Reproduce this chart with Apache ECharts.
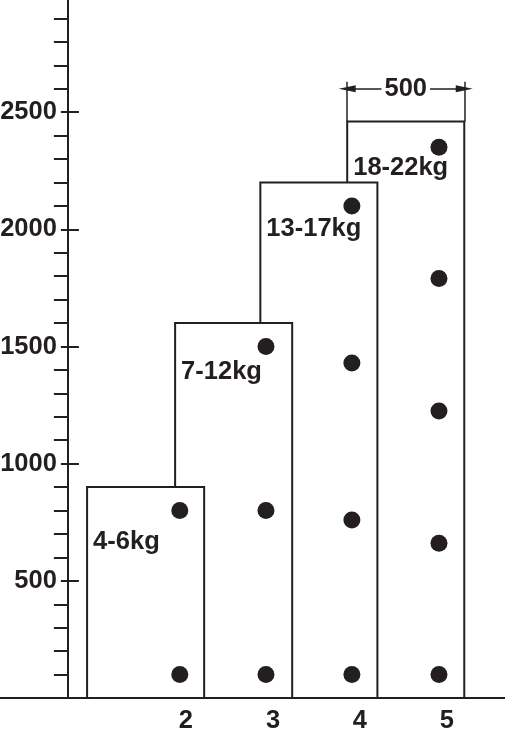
<!DOCTYPE html>
<html>
<head>
    <meta charset="utf-8">
    <title></title>
    <style type="text/css">
        html,
        body {
            margin: 0;
            padding: 0;
            background: #fff;
        }

        #main {
            width: 505px;
            height: 730px;
        }
    </style>
</head>

<body>
    <div id="main"></div>
    <script src="https://cdn.jsdelivr.net/npm/echarts@6/dist/echarts.min.js"></script>
    <script type="text/javascript">
        // boxes: one per weight class, in mm (x) and mm (height)
        var weightClasses = ['4-6kg', '7-12kg', '13-17kg', '18-22kg'];
        var boxLeft = [82, 458, 822, 1193];
        var boxWidth = 500;
        var boxTop = [900, 1600, 2200, 2460];
        var labelY = [665, 1390, 2000, 2260];
        // hinge positions per column
        var hingeCounts = ['2', '3', '4', '5'];
        var dotX = [478, 846, 1213, 1585];
        var dotHeights = [
            [100, 800],
            [100, 800, 1500],
            [100, 760, 1430, 2100],
            [100, 660, 1225, 1790, 2350]
        ];
        var countLabelX = [504, 876, 1247, 1619];
        // y axis ticks
        var majorTicks = [500, 1000, 1500, 2000, 2500];
        var minorTicks = [100, 200, 300, 400, 600, 700, 800, 900, 1100, 1200, 1300, 1400,
            1600, 1700, 1800, 1900, 2100, 2200, 2300, 2400, 2600, 2700, 2800, 2900];
        // dimension line above the last box
        var dimLineY = 2600;
        var dimExtTop = 2630;

        var xMin = -290, xMax = 1867;
        var ink = '#231f20';
        var font = '"Liberation Sans", Arial, sans-serif';
        var fontSize = 25.5;

        var boxData = [];
        for (var i = 0; i < boxLeft.length; i++) {
            boxData.push([boxLeft[i], boxLeft[i] + boxWidth, boxTop[i], labelY[i]]);
        }
        var dotData = [];
        for (var c = 0; c < dotHeights.length; c++) {
            for (var k = 0; k < dotHeights[c].length; k++) {
                dotData.push([dotX[c], dotHeights[c][k]]);
            }
        }
        var last = boxLeft.length - 1;

        var dom = document.getElementById('main');
        // put the y axis where x = 0 (negative offset moves it into the grid)
        var yAxisOffset = -(0 - xMin) / (xMax - xMin) * dom.clientWidth;

        function yAxisBase(extra) {
            var ax = {
                type: 'value',
                min: 0,
                max: 3000,
                interval: 500,
                position: 'left',
                offset: yAxisOffset,
                axisLine: {
                    onZero: false,
                    lineStyle: { color: ink, width: 2 }
                },
                splitLine: { show: false },
                axisLabel: { show: false }
            };
            for (var key in extra) ax[key] = extra[key];
            return ax;
        }

        var myChart = echarts.init(dom);
        myChart.setOption({
            animation: false,
            grid: {
                left: 0,
                right: 0,
                top: -5,
                bottom: 32,
                outerBoundsMode: 'none'
            },
            xAxis: {
                type: 'value',
                min: xMin,
                max: xMax,
                axisLine: {
                    onZero: false,
                    lineStyle: { color: ink, width: 2 }
                },
                axisTick: { show: false },
                splitLine: { show: false },
                axisLabel: {
                    customValues: countLabelX,
                    formatter: function (v) {
                        return hingeCounts[countLabelX.indexOf(v)];
                    },
                    color: ink,
                    fontFamily: font,
                    fontWeight: 'bold',
                    fontSize: fontSize,
                    margin: 10
                }
            },
            yAxis: [
                yAxisBase({
                    axisTick: {
                        inside: true,
                        length: 11,
                        customValues: majorTicks,
                        lineStyle: { color: ink, width: 2 }
                    },
                    axisLabel: {
                        customValues: majorTicks,
                        formatter: function (v) {
                            return String(v);
                        },
                        color: ink,
                        fontFamily: font,
                        fontWeight: 'bold',
                        fontSize: fontSize,
                        margin: 11
                    }
                }),
                yAxisBase({
                    axisTick: {
                        length: 14,
                        customValues: minorTicks,
                        lineStyle: { color: ink, width: 2 }
                    }
                }),
                yAxisBase({
                    axisTick: {
                        length: 7,
                        customValues: majorTicks,
                        lineStyle: { color: ink, width: 2 }
                    }
                })
            ],
            series: [{
                type: 'custom',
                z: 2,
                data: boxData,
                renderItem: function (params, api) {
                    var i = params.dataIndex;
                    var p0 = api.coord([api.value(0), api.value(2)]);
                    var p1 = api.coord([api.value(1), 0]);
                    var pl = api.coord([api.value(0), api.value(3)]);
                    return {
                        type: 'group',
                        children: [{
                            type: 'rect',
                            z2: 10 - i,
                            shape: {
                                x: p0[0],
                                y: p0[1],
                                width: p1[0] - p0[0],
                                height: p1[1] - p0[1]
                            },
                            style: { fill: '#fff', stroke: ink, lineWidth: 2 }
                        }, {
                            type: 'text',
                            z2: 100,
                            x: pl[0] + 6,
                            y: pl[1],
                            style: {
                                text: weightClasses[i],
                                fill: ink,
                                font: 'bold ' + fontSize + 'px ' + font,
                                verticalAlign: 'middle'
                            }
                        }]
                    };
                }
            }, {
                type: 'scatter',
                z: 3,
                symbolSize: 17,
                itemStyle: { color: ink, opacity: 1 },
                data: dotData,
                markLine: {
                    silent: true,
                    animation: false,
                    lineStyle: { color: ink, width: 1.5, type: 'solid' },
                    label: { show: false },
                    data: [
                        [{
                            coord: [boxLeft[last], dimLineY],
                            symbol: 'triangle',
                            symbolSize: [7, 17]
                        }, {
                            coord: [boxLeft[last] + boxWidth, dimLineY],
                            symbol: 'triangle',
                            symbolSize: [7, 17],
                            label: {
                                show: true,
                                position: 'middle',
                                formatter: String(boxWidth),
                                color: ink,
                                fontFamily: font,
                                fontWeight: 'bold',
                                fontSize: fontSize,
                                backgroundColor: '#fff',
                                padding: [0, 3],
                                verticalAlign: 'middle',
                                distance: 0
                            }
                        }],
                        [{ coord: [boxLeft[last], boxTop[last]], symbol: 'none' },
                         { coord: [boxLeft[last], dimExtTop], symbol: 'none' }],
                        [{ coord: [boxLeft[last] + boxWidth, boxTop[last]], symbol: 'none' },
                         { coord: [boxLeft[last] + boxWidth, dimExtTop], symbol: 'none' }]
                    ]
                }
            }]
        });
    </script>

</body>

</html>
